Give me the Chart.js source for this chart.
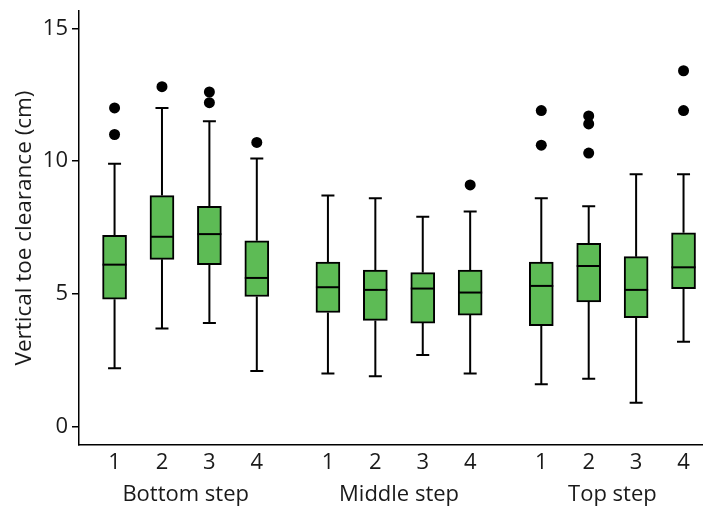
<!DOCTYPE html>
<html>
<head>
<meta charset="utf-8">
<script src="https://cdn.jsdelivr.net/npm/chart.js@4/dist/chart.umd.min.js"></script>
<style>
  html, body { margin: 0; padding: 0; background: #fff; }
  #wrap { width: 708px; height: 506px; }
</style>
</head>
<body>
<div id="wrap"><canvas id="boxChart"></canvas></div>
<script>
// Box positions on the x axis (groups separated by a gap)
const positions = [1, 2, 3, 4, 5.5, 6.5, 7.5, 8.5, 10, 11, 12, 13];
const tickLabels = ['1', '2', '3', '4', '1', '2', '3', '4', '1', '2', '3', '4'];
const groupLabels = ['Bottom step', 'Middle step', 'Top step'];
const groupCenters = [2.5, 7, 11.5];
const yTicks = [0, 5, 10, 15];

// Box plot statistics (cm)
const whiskerLow = [2.2, 3.7, 3.9, 2.1, 2.0, 1.9, 2.7, 2.0, 1.6, 1.8, 0.9, 3.2];
const q1 = [4.8, 6.3, 6.1, 4.9, 4.3, 4.0, 3.9, 4.2, 3.8, 4.7, 4.1, 5.2];
const median = [6.1, 7.15, 7.25, 5.6, 5.25, 5.15, 5.2, 5.05, 5.3, 6.05, 5.15, 6.0];
const q3 = [7.2, 8.7, 8.3, 7.0, 6.2, 5.9, 5.8, 5.9, 6.2, 6.9, 6.4, 7.3];
const whiskerHigh = [9.9, 12.0, 11.5, 10.1, 8.7, 8.6, 7.9, 8.1, 8.6, 8.3, 9.5, 9.5];
const outliers = [[12.0, 11.0], [12.8], [12.6, 12.2], [10.7], [], [], [], [9.1],
                  [11.9, 10.6], [11.7, 11.4, 10.3], [], [13.4, 11.9]];

const FONT = "'Open Sans', 'Noto Sans', sans-serif";
const TEXT = '#1a1a1a';

// Whiskers behind the boxes, medians on top
const boxWhiskers = {
    id: 'boxWhiskers',
    beforeDatasetsDraw(chart) {
        const {ctx, scales: {x, y}} = chart;
        ctx.save();
        ctx.strokeStyle = '#000';
        ctx.lineWidth = 2;
        positions.forEach((p, i) => {
            const px = x.getPixelForValue(p);
            ctx.beginPath();
            ctx.moveTo(px, y.getPixelForValue(whiskerLow[i]));
            ctx.lineTo(px, y.getPixelForValue(q1[i]));
            ctx.moveTo(px, y.getPixelForValue(q3[i]));
            ctx.lineTo(px, y.getPixelForValue(whiskerHigh[i]));
            [whiskerLow[i], whiskerHigh[i]].forEach(v => {
                const py = y.getPixelForValue(v);
                ctx.moveTo(px - 6.5, py);
                ctx.lineTo(px + 6.5, py);
            });
            ctx.stroke();
        });
        ctx.restore();
    },
    afterDatasetsDraw(chart) {
        const {ctx, scales: {x, y}} = chart;
        ctx.save();
        ctx.strokeStyle = '#000';
        ctx.lineWidth = 2;
        positions.forEach((p, i) => {
            const px = x.getPixelForValue(p);
            const py = y.getPixelForValue(median[i]);
            ctx.beginPath();
            ctx.moveTo(px - 12, py);
            ctx.lineTo(px + 12, py);
            ctx.stroke();
        });
        ctx.restore();
    }
};

const boxData = positions.map((p, i) => ({x: p, y: [q1[i], q3[i]]}));
const outlierData = [];
outliers.forEach((vals, i) => vals.forEach(v => outlierData.push({x: positions[i], y: v})));

new Chart(document.getElementById('boxChart'), {
    type: 'bar',
    data: {
        datasets: [
            {
                data: boxData,
                backgroundColor: '#5dbb55',
                borderColor: '#000',
                borderWidth: 2,
                borderSkipped: false,
                barThickness: 24
            },
            {
                type: 'scatter',
                data: outlierData,
                pointRadius: 5.5,
                pointBackgroundColor: '#000',
                pointBorderWidth: 0
            }
        ]
    },
    plugins: [boxWhiskers],
    options: {
        responsive: true,
        maintainAspectRatio: false,
        animation: false,
        layout: { padding: { top: 11, right: 0, left: 0, bottom: 0 } },
        plugins: { legend: { display: false }, tooltip: { enabled: false } },
        scales: {
            x: {
                type: 'linear',
                offset: false,
                min: 0.25,
                max: 13.4,
                grid: { display: false, drawTicks: false },
                border: { color: '#000', width: 1.5 },
                afterBuildTicks: s => { s.ticks = positions.map(v => ({value: v})); },
                afterFit: s => { s.height = 30; s.paddingLeft = 0; s.paddingRight = 0; },
                ticks: {
                    padding: 5,
                    color: TEXT,
                    font: { family: FONT, size: 22 },
                    callback: v => tickLabels[positions.indexOf(v)]
                }
            },
            x2: {
                type: 'linear',
                position: 'bottom',
                offset: false,
                min: 0.25,
                max: 13.4,
                grid: { display: false, drawTicks: false },
                border: { display: false },
                afterBuildTicks: s => { s.ticks = groupCenters.map(v => ({value: v})); },
                afterFit: s => { s.height = 31; s.paddingLeft = 0; s.paddingRight = 0; },
                ticks: {
                    padding: 7,
                    color: TEXT,
                    font: { family: FONT, size: 22 },
                    callback: v => groupLabels[groupCenters.indexOf(v)]
                }
            },
            y: {
                min: -0.69,
                max: 15.65,
                afterBuildTicks: s => { s.ticks = yTicks.map(v => ({value: v})); },
                afterFit: s => { s.width = 79; s.paddingTop = 0; s.paddingBottom = 0; },
                grid: { drawOnChartArea: false, tickLength: 7, color: '#000', lineWidth: 1.5 },
                border: { color: '#000', width: 1.5 },
                ticks: {
                    padding: 4,
                    color: TEXT,
                    font: { family: FONT, size: 22 }
                },
                title: {
                    display: true,
                    text: 'Vertical toe clearance (cm)',
                    color: TEXT,
                    font: { family: FONT, size: 22.5 },
                    padding: { top: 11, bottom: 0 }
                }
            }
        }
    }
});
</script>
</body>
</html>
